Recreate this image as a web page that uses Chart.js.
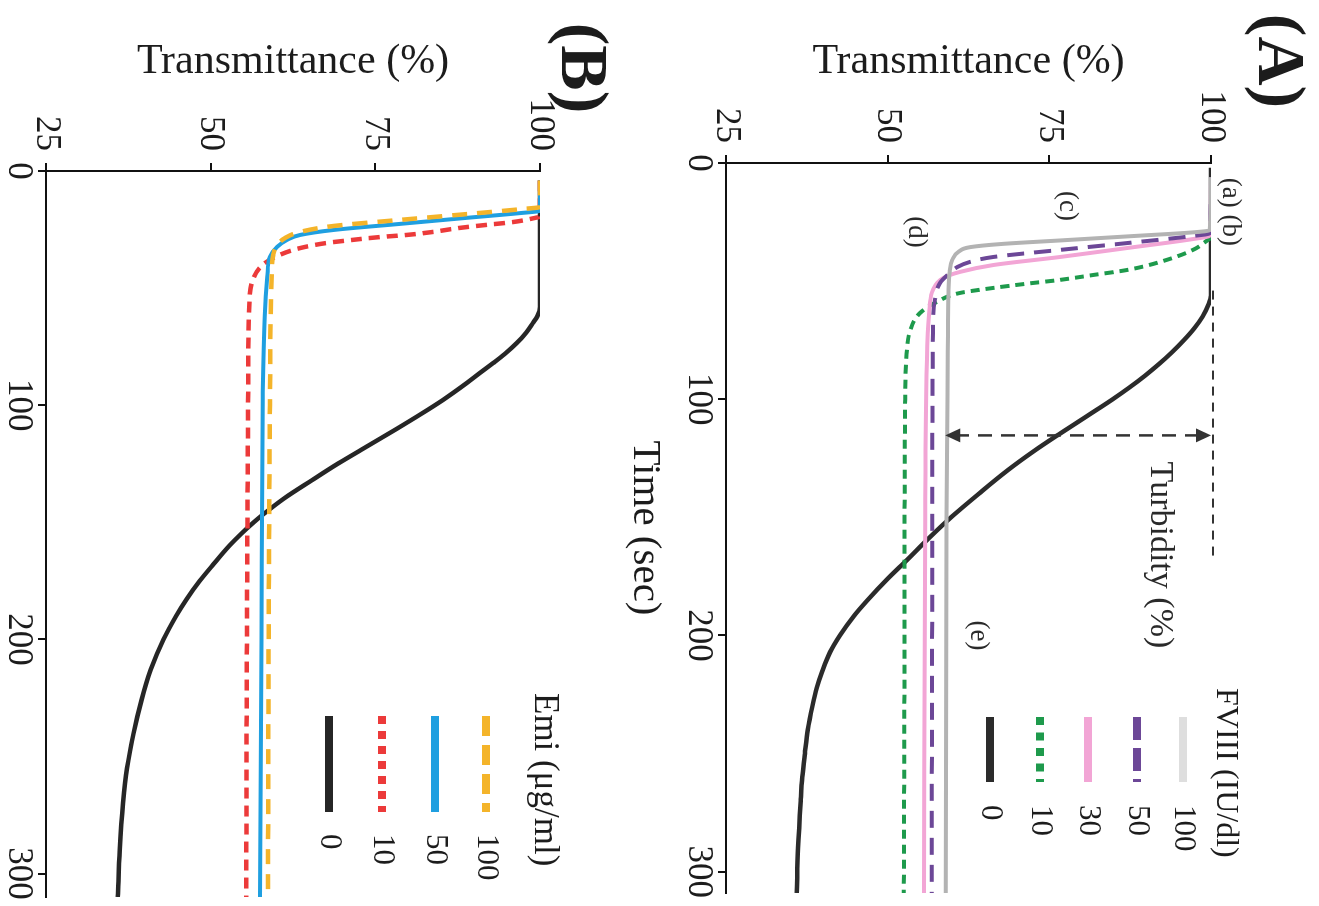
<!DOCTYPE html>
<html>
<head>
<meta charset="utf-8">
<script src="https://cdn.jsdelivr.net/npm/chart.js@4.4.1/dist/chart.umd.min.js"></script>
<style>
  html, body { margin: 0; padding: 0; background: #fff; width: 1319px; height: 906px; overflow: hidden; }
  /* the figure is laid out portrait (panel A above panel B) and turned a quarter clockwise */
  #figure {
    position: absolute; left: 0; top: 0;
    width: 906px; height: 1319px;
    transform-origin: 0 0;
    transform: translate(1319px, 0) rotate(90deg);
    background: #fff;
  }
  #figure canvas { display: block; }
</style>
</head>
<body>
<div id="figure">
  <canvas id="panelA" width="906" height="705"></canvas>
  <canvas id="panelB" width="906" height="614"></canvas>
</div>
<script>
// ---------- axes ----------
const timeTicks = [0, 100, 200, 300];
const transmittanceTicks = [25, 50, 75, 100];

// ---------- panel A: FVIII (IU/dl) ----------
const fviiiLabels = ['100', '50', '30', '10', '0'];

const fviii100Time  = [6, 28.5, 29.3, 31.0, 32.7, 34.3, 35.6, 37.5, 41, 46, 55, 80, 150, 309];
const fviii100Trans = [100, 99.8, 97.5, 87.5, 77.2, 67.5, 62.8, 61.0, 60.0, 59.6, 59.4, 59.3, 59.1, 59.0];

const fviii50Time  = [6, 29.8, 30.9, 33.9, 36.8, 39.8, 41.9, 44, 46.6, 50.8, 58, 72, 150, 309];
const fviii50Trans = [100, 99.8, 97.2, 87.0, 76.6, 66.3, 62.7, 60.8, 59.6, 58.1, 57.3, 57.0, 56.9, 56.8];

const fviii30Time  = [6, 30.8, 32.2, 36.0, 39.8, 43.2, 46.1, 48.7, 53.7, 60.9, 72, 150, 309];
const fviii30Trans = [100, 99.8, 97.2, 87.0, 76.6, 66.3, 61.2, 58.6, 57.0, 56.5, 56.2, 55.8, 55.6];

const fviii10Time  = [6, 31.5, 32.6, 36.8, 41.9, 45.3, 47.4, 49.5, 51.0, 52.9, 55.0, 58.8, 63.5, 70.7, 79.1, 100, 200, 309];
const fviii10Trans = [100, 100, 99.5, 97.2, 92.1, 87.0, 81.8, 76.6, 71.8, 66.3, 61.2, 57.6, 55.0, 53.5, 53.0, 52.7, 52.6, 52.5];

const fviii0Time  = [2, 56, 60, 65, 70, 75, 80, 85, 90, 95, 100, 107, 115, 122, 130, 140, 150, 159, 168, 176, 185, 192, 200, 207, 215, 222, 230, 240, 250, 260, 270, 290, 309];
const fviii0Trans = [100, 100, 99.6, 98.7, 97.4, 95.8, 94.0, 92.0, 89.8, 87.4, 84.8, 80.9, 76.4, 72.6, 68.6, 64.1, 59.8, 56.3, 53.0, 50.0, 46.9, 44.7, 42.6, 41.1, 39.9, 39.05, 38.35, 37.65, 37.2, 36.8, 36.55, 36.15, 35.95];

// ---------- panel B: Emi (μg/ml) ----------
const emiLabels = ['100', '50', '10', '0'];

const emi100Time  = [4, 15.4, 16.2, 18.4, 20.9, 23.5, 26, 28.6, 31.6, 35.8, 42, 100, 200, 310];
const emi100Trans = [100, 100, 97.5, 88.9, 78.7, 68.6, 63.6, 61.3, 60.1, 59.5, 59.3, 59.0, 58.8, 58.7];

const emi50Time  = [4, 17, 18, 20, 22.6, 25.2, 27.3, 29.4, 32.4, 36.7, 45.2, 62, 97.7, 200, 310];
const emi50Trans = [100, 100, 96.9, 88.9, 78.7, 68.6, 63.6, 61.6, 60.1, 59.0, 58.6, 58.2, 57.9, 57.7, 57.5];

const emi10Time  = [4, 19.5, 20, 21.8, 23, 24.3, 26, 27.3, 28.2, 29.4, 30.7, 32.9, 35.8, 40.1, 46.5, 55, 90, 200, 310];
const emi10Trans = [100, 100, 99.3, 95.9, 91.9, 87.8, 83.8, 79.8, 75.7, 71.6, 67.7, 63.6, 60.5, 57.9, 56.4, 55.9, 55.7, 55.5, 55.4];

const emi0Time  = [4, 58, 62, 65, 69, 73.4, 78, 82, 86, 90.5, 97.7, 104, 110, 117, 125, 132, 140, 146.8, 150, 155, 160, 168, 175, 183, 190, 200, 213, 226, 240, 255, 270, 290, 310];
const emi0Trans = [100, 100, 99.6, 98.9, 97.9, 96.5, 94.7, 92.9, 91.0, 88.9, 85.3, 81.8, 78.3, 74.1, 69.3, 65.4, 61.05, 57.9, 56.55, 54.6, 52.85, 50.4, 48.35, 46.3, 44.75, 42.85, 40.9, 39.5, 38.3, 37.3, 36.7, 36.2, 35.9];

// ---------- drawing helpers ----------
const serif = '"Liberation Serif", "Times New Roman", Times, serif';
const ink = '#1c1c1c';

function series(label, times, values, style) {
  return {
    label: label,
    data: times.map((t, i) => ({ x: t, y: values[i] })),
    borderColor: style.color,
    borderWidth: style.width,
    borderDash: style.dash || [],
    borderCapStyle: 'butt',
    pointRadius: 0,
    fill: false,
    cubicInterpolationMode: 'monotone',
    legendColor: style.legendColor || style.color,
    legendDash: style.legendDash || []
  };
}

function axes(p) {
  const tickFont = { family: serif, size: 35, lineHeight: 1 };
  const gridOpts = { display: true, drawOnChartArea: false, drawTicks: true, tickLength: 8, color: '#111', lineWidth: 2 };
  const borderOpts = { display: true, color: '#111', width: 2 };
  return {
    x: {
      type: 'linear', min: 0, max: p.tMax,
      afterBuildTicks: s => { s.ticks = timeTicks.map(v => ({ value: v })); },
      afterFit: s => { s.height = p.xAxisHeight; },
      ticks: { font: tickFont, color: ink, padding: 2, maxRotation: 0, autoSkip: false },
      grid: gridOpts, border: borderOpts,
      title: p.xTitle
        ? { display: true, text: p.xTitle, font: { family: serif, size: 41 }, color: ink, padding: { top: 0, bottom: 6 } }
        : { display: false }
    },
    y: {
      type: 'linear', min: 25, max: 100,
      afterBuildTicks: s => { s.ticks = transmittanceTicks.map(v => ({ value: v })); },
      afterFit: s => { s.width = p.yAxisWidth; },
      ticks: { font: tickFont, color: ink, padding: 12, autoSkip: false },
      grid: gridOpts, border: borderOpts,
      title: { display: true, text: 'Transmittance (%)', font: { family: serif, size: 42 }, color: ink, padding: { top: 37, bottom: 0 } }
    }
  };
}

function arrowHead(ctx, x, y, dir) {
  // dir: +1 points toward larger canvas y, -1 toward smaller
  ctx.beginPath();
  ctx.moveTo(x, y);
  ctx.lineTo(x - 7, y - dir * 15);
  ctx.lineTo(x + 7, y - dir * 15);
  ctx.closePath();
  ctx.fill();
}

function overlay(cfg) {
  return {
    id: 'overlay' + cfg.letter.text,
    afterDatasetsDraw(chart) {
      const ctx = chart.ctx;
      const X = t => chart.scales.x.getPixelForValue(t);
      const Y = v => chart.scales.y.getPixelForValue(v);
      ctx.save();
      ctx.fillStyle = ink;
      ctx.textBaseline = 'middle';

      // panel letter
      ctx.font = 'bold 68px ' + serif;
      ctx.textAlign = 'center';
      ctx.fillText(cfg.letter.text, cfg.letter.x, cfg.letter.y);

      // turbidity guide: dashed baseline and double arrow
      if (cfg.turbidity) {
        const g = cfg.turbidity;
        ctx.strokeStyle = '#333';
        ctx.fillStyle = '#333';
        ctx.lineWidth = 2;
        ctx.setLineDash([9, 7]);
        ctx.beginPath();
        ctx.moveTo(X(g.guideFrom), Y(g.guideLevel));
        ctx.lineTo(X(g.guideTo), Y(g.guideLevel));
        ctx.stroke();

        const ax = X(g.arrowTime), top = Y(g.arrowHigh), bot = Y(g.arrowLow);
        ctx.lineWidth = 2.5;
        ctx.setLineDash([14, 9]);
        ctx.beginPath();
        ctx.moveTo(ax, top + 12);
        ctx.lineTo(ax, bot - 12);
        ctx.stroke();
        ctx.setLineDash([]);
        arrowHead(ctx, ax, top, -1);
        arrowHead(ctx, ax, bot, 1);
        ctx.fillStyle = ink;
      }

      // small annotations
      (cfg.notes || []).forEach(n => {
        ctx.font = n.size + 'px ' + serif;
        ctx.fillStyle = '#2a2a2a';
        ctx.textAlign = 'center';
        ctx.fillText(n.text, X(n.t), Y(n.v));
      });

      // legend
      const lg = cfg.legend;
      ctx.fillStyle = ink;
      ctx.textAlign = 'left';
      ctx.font = lg.titleSize + 'px ' + serif;
      ctx.fillText(lg.title, lg.titleX, lg.titleY);
      chart.data.datasets.forEach((ds, i) => {
        const yy = lg.rows[i];
        ctx.save();
        ctx.strokeStyle = ds.legendColor;
        ctx.lineWidth = 8;
        ctx.lineCap = 'butt';
        ctx.setLineDash(ds.legendDash);
        ctx.beginPath();
        ctx.moveTo(lg.x0, yy);
        ctx.lineTo(lg.x1, yy);
        ctx.stroke();
        ctx.restore();
        ctx.font = lg.size + 'px ' + serif;
        ctx.fillText(ds.label, lg.textX, yy);
      });
      ctx.restore();
    }
  };
}

// ---------- panel A ----------
new Chart(document.getElementById('panelA'), {
  type: 'line',
  data: {
    datasets: [
      series(fviiiLabels[0], fviii100Time, fviii100Trans, { color: '#b3b3b3', width: 4, legendColor: '#dedede' }),
      series(fviiiLabels[1], fviii50Time, fviii50Trans, { color: '#6c4797', width: 4, dash: [17, 10], legendDash: [23, 8] }),
      series(fviiiLabels[2], fviii30Time, fviii30Trans, { color: '#f2a5d5', width: 4 }),
      series(fviiiLabels[3], fviii10Time, fviii10Trans, { color: '#1e9a4c', width: 4, dash: [9, 6], legendDash: [8, 7.5] }),
      series(fviiiLabels[4], fviii0Time, fviii0Trans, { color: '#2b2b2b', width: 4.5 })
    ]
  },
  options: {
    responsive: false, animation: false, events: [],
    layout: { padding: { top: 108, right: 13, bottom: 0, left: 0 } },
    plugins: { legend: { display: false }, tooltip: { enabled: false } },
    scales: axes({ tMax: 309, xAxisHeight: 112, yAxisWidth: 163, xTitle: 'Time (sec)' })
  },
  plugins: [overlay({
    letter: { text: '(A)', x: 61, y: 42 },
    turbidity: { guideLevel: 100.3, guideFrom: 54, guideTo: 168, arrowTime: 115.3, arrowHigh: 100, arrowLow: 58.9 },
    notes: [
      { text: '(a) (b)', t: 20.7, v: 102.9, size: 27 },
      { text: '(c)', t: 18.2, v: 77.7, size: 27 },
      { text: '(d)', t: 29.2, v: 54.4, size: 27 },
      { text: '(e)', t: 200, v: 64.0, size: 27 },
      { text: 'Turbidity (%)', t: 165.9, v: 92.1, size: 34 }
    ],
    legend: {
      title: 'FVIII (IU/dl)', titleX: 688, titleY: 94, titleSize: 32,
      rows: [136, 182, 231, 279, 329], x0: 717, x1: 782, textX: 805, size: 31
    }
  })]
});

// ---------- panel B ----------
new Chart(document.getElementById('panelB'), {
  type: 'line',
  data: {
    datasets: [
      series(emiLabels[0], emi100Time, emi100Trans, { color: '#f4b42a', width: 4.5, dash: [15, 10], legendDash: [20, 9] }),
      series(emiLabels[1], emi50Time, emi50Trans, { color: '#1f9fe0', width: 4 }),
      series(emiLabels[2], emi10Time, emi10Trans, { color: '#ec3a3a', width: 4.5, dash: [11, 7], legendDash: [8, 7] }),
      series(emiLabels[3], emi0Time, emi0Trans, { color: '#262626', width: 4.5 })
    ]
  },
  options: {
    responsive: false, animation: false, events: [],
    layout: { padding: { top: 74, right: 9, bottom: 0, left: 0 } },
    plugins: { legend: { display: false }, tooltip: { enabled: false } },
    scales: axes({ tMax: 310, xAxisHeight: 46, yAxisWidth: 171, xTitle: null })
  },
  plugins: [overlay({
    letter: { text: '(B)', x: 68, y: 34 },
    notes: [],
    legend: {
      title: 'Emi (\u03bcg/ml)', titleX: 693, titleY: 70, titleSize: 35,
      rows: [128, 179, 232, 285], x0: 716, x1: 812, textX: 834, size: 31
    }
  })]
});
</script>
</body>
</html>
